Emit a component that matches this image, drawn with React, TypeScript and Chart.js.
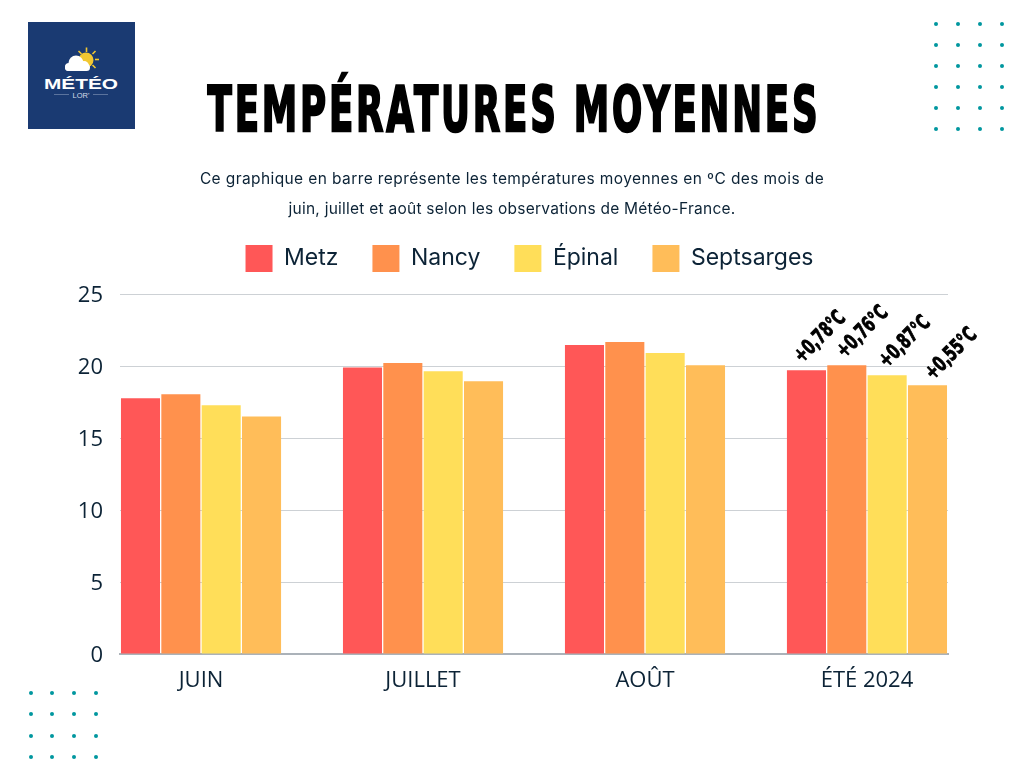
import React, { useEffect, useRef } from "react";
import { Chart, registerables } from "chart.js";

Chart.register(...registerables);

const categories = ["JUIN", "JUILLET", "AOÛT", "ÉTÉ 2024"];
const metz = [17.76, 19.9, 21.45, 19.7];
const nancy = [18.04, 20.2, 21.66, 20.05];
const epinal = [17.27, 19.64, 20.9, 19.36];
const septsarges = [16.5, 18.94, 20.05, 18.66];
const seriesNames = ["Metz", "Nancy", "Épinal", "Septsarges"];
const seriesColors = ["#FF5757", "#FF914D", "#FFDE59", "#FFBD59"];
const anomalies = ["+0,78°C", "+0,76°C", "+0,87°C", "+0,55°C"];
const subtitleLines = [
  "Ce graphique en barre représente les températures moyennes en ºC des mois de",
  "juin, juillet et août selon les observations de Météo-France.",
];

const INK = "#0C2336";
const TEAL = "#00979F";
const UI_FONT = "Inter, 'Noto Sans', sans-serif";
const TICK_FONT = "'Open Sans', 'Noto Sans', sans-serif";
const HEAVY_FONT = "'DejaVu Sans', sans-serif";

const anomalyOffsets = [
  [14, -33],
  [16, -33],
  [18, -33],
  [24, -31],
];
const subtitleSpacing = [0.4, 0.25];

const layoutPlugin = {
  id: "placeLegend",
  afterLayout(chart: any) {
    const lg = chart.legend;
    lg.top -= 12;
    lg.bottom -= 12;
    lg.left += 55.5;
    lg.right += 55.5;
  },
  beforeDraw(chart: any) {
    // the reference's value labels sit slightly lower than canvas "middle" baseline
    chart.scales.y.getLabelItems().forEach((item: any) => {
      if (!item.__moved) {
        item.options.translation = [item.options.translation[0], item.options.translation[1] + 2];
        item.__moved = true;
      }
    });
  },
};

const anomalyPlugin = {
  id: "anomalies",
  afterDatasetsDraw(chart: any) {
    const ctx = chart.ctx;
    anomalies.forEach((label, i) => {
      const bar = chart.getDatasetMeta(i).data[3];
      ctx.save();
      ctx.translate(bar.x + anomalyOffsets[i][0], bar.y + anomalyOffsets[i][1]);
      ctx.rotate(-Math.PI / 4);
      ctx.scale(0.66, 1);
      ctx.font = `bold 21px ${HEAVY_FONT}`;
      ctx.textAlign = "center";
      ctx.textBaseline = "middle";
      ctx.lineWidth = 1;
      ctx.strokeStyle = "#000";
      ctx.fillStyle = "#000";
      ctx.strokeText(label, 0, 0);
      ctx.fillText(label, 0, 0);
      ctx.restore();
    });
  },
};

const dotsX1 = [936, 958, 980, 1002];
const dotsY1 = [24, 45, 66, 87, 108, 129];
const dotsX2 = [31, 52, 74, 96];
const dotsY2 = [693, 714, 736, 757];

function Decor() {
  return (
    <svg width={1024} height={768} style={{ position: "absolute", left: 0, top: 0 }}>
      {dotsX1.flatMap((x) =>
        dotsY1.map((y) => <circle key={`a${x}-${y}`} cx={x} cy={y} r={2} fill={TEAL} />)
      )}
      {dotsX2.flatMap((x) =>
        dotsY2.map((y) => <circle key={`b${x}-${y}`} cx={x} cy={y} r={2} fill={TEAL} />)
      )}
      <rect x={28} y={22} width={107} height={107} fill="#1A3A72" />
      <circle cx={86} cy={60} r={7.5} fill="#F2C832" />
      <g stroke="#F2C832" strokeWidth={1.6}>
        <line x1={86.5} y1={47.5} x2={86.5} y2={52} />
        <line x1={78.5} y1={51} x2={81.5} y2={54} />
        <line x1={95.5} y1={51} x2={92.5} y2={54} />
        <line x1={95} y1={59.5} x2={99} y2={59.5} />
        <line x1={92.5} y1={65} x2={95.5} y2={68} />
      </g>
      <g fill="#FFFFFF">
        <circle cx={76} cy={63} r={7.5} />
        <circle cx={84} cy={66} r={5} />
        <circle cx={69} cy={67} r={4} />
        <rect x={65} y={64} width={25} height={7} rx={3.5} />
      </g>
      <text x={81} y={89} textAnchor="middle" fontFamily="'Liberation Sans', sans-serif" fontSize={14.5} fontWeight={700} fill="#FFFFFF" textLength={74} lengthAdjust="spacingAndGlyphs">
        MÉTÉO
      </text>
      <line x1={54} y1={94.5} x2={69} y2={94.5} stroke="#6C82A8" strokeWidth={0.8} />
      <line x1={93} y1={94.5} x2={108} y2={94.5} stroke="#6C82A8" strokeWidth={0.8} />
      <text x={81} y={97.5} textAnchor="middle" fontFamily="'Liberation Sans', sans-serif" fontSize={7.5} fill="#D5DCE8">
        LOR'
      </text>
    </svg>
  );
}

export default function App() {
  const ref = useRef<HTMLCanvasElement | null>(null);

  useEffect(() => {
    if (!ref.current) return;
    const values = [metz, nancy, epinal, septsarges];
    const chart = new Chart(ref.current, {
      type: "bar",
      data: {
        datasets: values.map((vals, i) => ({
          label: seriesNames[i],
          data: vals.map((v, k) => ({ x: k, y: v })),
          backgroundColor: seriesColors[i],
          borderWidth: 0,
          categoryPercentage: 0.727,
          barPercentage: 0.968,
        })),
      },
      plugins: [layoutPlugin, anomalyPlugin],
      options: {
        responsive: false,
        animation: false,
        layout: { padding: { left: 0, right: 76, top: 223, bottom: 74 } },
        plugins: {
          tooltip: { enabled: false },
          title: { display: false },
          legend: {
            position: "top",
            labels: {
              boxWidth: 27,
              boxHeight: 27,
              padding: 34,
              color: INK,
              font: { family: UI_FONT, size: 23 },
            },
          },
        },
        scales: {
          x: {
            type: "linear",
            offset: false,
            bounds: "data",
            min: -0.365,
            max: 3.365,
            grid: { display: false, drawTicks: false },
            border: { display: true, color: "#ABB2B9", width: 2 },
            afterBuildTicks: (s: any) => {
              s.ticks = categories.map((_, i) => ({ value: i }));
            },
            afterFit: (s: any) => {
              s.height = 40;
            },
            ticks: {
              autoSkip: false,
              maxRotation: 0,
              minRotation: 0,
              padding: 14,
              color: INK,
              font: { family: TICK_FONT, size: 22 },
              callback: (v: any) => categories[v],
            },
          },
          y: {
            min: 0,
            max: 25,
            grid: { color: "#CDD1D5", lineWidth: 1, drawTicks: false },
            border: { display: false },
            afterFit: (s: any) => {
              s.width = 120;
            },
            ticks: {
              stepSize: 5,
              padding: 17,
              color: INK,
              font: { family: TICK_FONT, size: 22 },
            },
          },
        },
      },
    } as any);
    return () => chart.destroy();
  }, []);

  return (
    <div style={{ position: "absolute", left: 0, top: 0, width: 1024, height: 768, background: "#fff", overflow: "hidden" }}>
      <Decor />
      <canvas ref={ref} width={1024} height={768} style={{ position: "absolute", left: 0, top: 0, display: "block" }} />
      <div
        style={{
          position: "absolute",
          left: -486,
          width: 2000,
          top: 72,
          textAlign: "center",
          fontFamily: HEAVY_FONT,
          fontWeight: 700,
          fontSize: 63,
          lineHeight: "76px",
          letterSpacing: 5,
          color: "#000",
          WebkitTextStroke: "2.5px #000",
          whiteSpace: "nowrap",
          transform: "scaleX(0.565)",
          transformOrigin: "50% 0",
        }}
      >
        TEMPÉRATURES MOYENNES
      </div>
      {subtitleLines.map((line, i) => (
        <div
          key={i}
          style={{
            position: "absolute",
            left: 0,
            width: 1024,
            top: 169 + i * 30,
            textAlign: "center",
            fontFamily: UI_FONT,
            fontSize: 15.5,
            letterSpacing: subtitleSpacing[i],
            lineHeight: "20px",
            color: INK,
            whiteSpace: "nowrap",
          }}
        >
          {line}
        </div>
      ))}
    </div>
  );
}
